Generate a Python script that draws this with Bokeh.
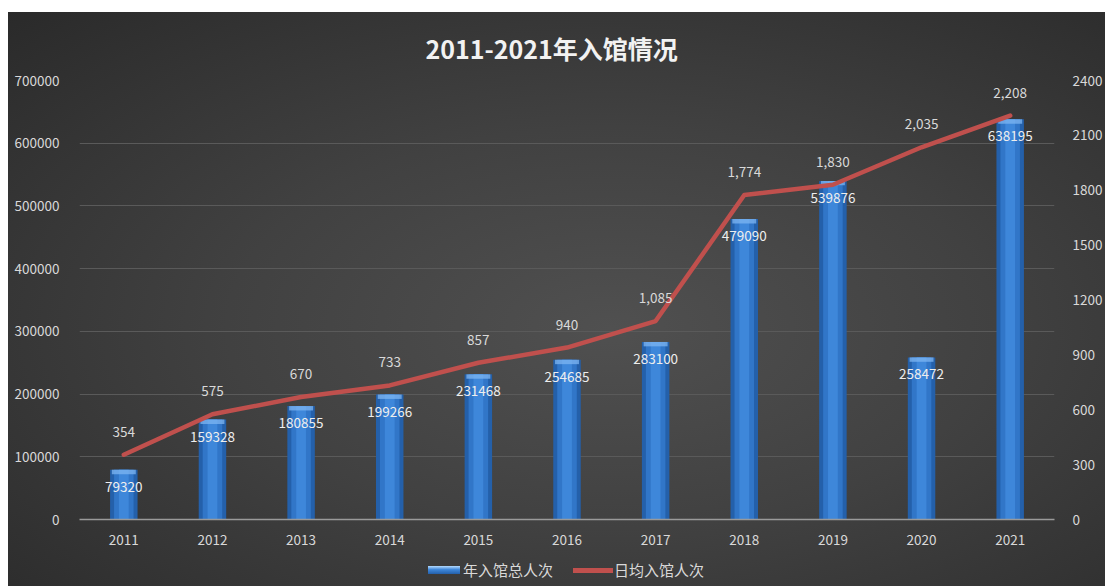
from bokeh.plotting import figure
from bokeh.models import (ColumnDataSource, LinearAxis, Range1d, FactorRange, Div,
                          FixedTicker, Spacer, NumeralTickFormatter)
from bokeh.layouts import column, row
from bokeh.core.properties import value
from bokeh.embed import file_html
from bokeh.resources import INLINE

years = ["2011", "2012", "2013", "2014", "2015", "2016", "2017", "2018", "2019", "2020", "2021"]
total_visits = [79320, 159328, 180855, 199266, 231468, 254685, 283100, 479090, 539876, 258472, 638195]
daily_avg = [354, 575, 670, 733, 857, 940, 1085, 1774, 1830, 2035, 2208]
left_ticks = [0, 100000, 200000, 300000, 400000, 500000, 600000, 700000]
right_ticks = [0, 300, 600, 900, 1200, 1500, 1800, 2100, 2400]
series_names = ["年入馆总人次", "日均入馆人次"]
chart_title = "2011-2021年入馆情况"

FONT = "Noto Sans CJK SC"
TXT = "#d9d9d9"
BAR_OUT, BAR_MID, BAR_IN, BAR_CAP = "#2460aa", "#3176c8", "#3e87da", "#7db6f2"
LINE_C = "#c0504d"
CAP_H = 7000  # highlight band height at top of each bar (axis units)

src = ColumnDataSource(dict(
    year=years,
    total=total_visits,
    cap_bottom=[v - CAP_H for v in total_visits],
    total_lbl=[str(v) for v in total_visits],
    daily=daily_avg,
    daily_lbl=[f"{v:,}" for v in daily_avg],
))

p = figure(width=1097, height=546, x_range=FactorRange(*years), y_range=Range1d(0, 700000),
           output_backend="svg", toolbar_location=None,
           min_border_left=71, min_border_right=47, min_border_top=68, min_border_bottom=39)
p.background_fill_alpha = 0
p.border_fill_alpha = 0
p.outline_line_color = None

p.title.text = chart_title
p.title.align = "left"
p.title.offset = 346
p.title.text_font = FONT
p.title.text_font_size = "25px"
p.title.text_font_style = "bold"
p.title.text_color = "#f2f2f2"
p.title.standoff = 30

p.extra_y_ranges = {"right": Range1d(0, 2400)}

# bars (layered for a cylinder-like shading)
p.vbar(x="year", top="total", width=0.31, source=src, fill_color=BAR_OUT, line_color=None)
p.vbar(x="year", top="total", width=0.22, source=src, fill_color=BAR_MID, line_color=None)
p.vbar(x="year", top="total", width=0.11, source=src, fill_color=BAR_IN, line_color=None)
p.vbar(x="year", top="total", bottom="cap_bottom", width=0.27, source=src,
       fill_color=BAR_CAP, fill_alpha=0.75, line_color=None)

# line
p.line(x="year", y="daily", source=src, y_range_name="right", line_color=LINE_C,
       line_width=4.5, line_cap="round", line_join="round")

# labels
p.text(x="year", y="total", text="total_lbl", source=src, text_align="center", text_baseline="middle",
       y_offset=17, text_color="#eeeeee", text_font=value(FONT), text_font_size="13.5px")
p.text(x="year", y="daily", text="daily_lbl", source=src, y_range_name="right", text_align="center",
       text_baseline="middle", y_offset=-23, text_color=TXT, text_font=value(FONT), text_font_size="13.5px")

# axes
la = p.yaxis[0]
la.ticker = FixedTicker(ticks=left_ticks)
la.formatter = NumeralTickFormatter(format="0")
ra = LinearAxis(y_range_name="right", ticker=FixedTicker(ticks=right_ticks))
p.add_layout(ra, "right")
for ax in (la, ra):
    ax.axis_line_color = None
    ax.major_tick_line_color = None
    ax.minor_tick_line_color = None
    ax.major_label_text_color = TXT
    ax.major_label_text_font = FONT
    ax.major_label_text_font_size = "13.5px"
la.major_label_standoff = 14
ra.major_label_standoff = 12

xa = p.xaxis[0]
xa.axis_line_color = "#9a9a9a"
xa.axis_line_width = 1.5
xa.major_tick_line_color = None
xa.minor_tick_line_color = None
xa.major_label_text_color = TXT
xa.major_label_text_font = FONT
xa.major_label_text_font_size = "13.5px"
xa.major_label_standoff = 9

p.xgrid.grid_line_color = None
p.ygrid.grid_line_color = "#5a5a5a"
p.ygrid.grid_line_width = 1

# legend strip below the chart
legend_html = (
    f'<div style="position:relative;width:1097px;height:28px;font-family:\'{FONT}\';'
    f'font-size:15px;color:{TXT};">'
    f'<span style="position:absolute;left:420px;top:8px;width:32px;height:8px;'
    f'background:linear-gradient(#b5dbff,{BAR_IN} 45%,{BAR_OUT});"></span>'
    f'<span style="position:absolute;left:455px;top:2px;line-height:20px;white-space:nowrap;">{series_names[0]}</span>'
    f'<span style="position:absolute;left:565px;top:10px;width:40px;height:5px;background:{LINE_C};"></span>'
    f'<span style="position:absolute;left:606px;top:2px;line-height:20px;white-space:nowrap;">{series_names[1]}</span>'
    f'</div>'
)
legend_div = Div(text=legend_html, width=1097, height=28, margin=0)

chart = column(p, legend_div, spacing=0, width=1097, height=574,
               styles={"background": "radial-gradient(ellipse farthest-corner at 55% 55%, "
                                     "#505050 0%, #414141 45%, #2a2a2a 100%)"})

layout = column(Spacer(height=12), row(Spacer(width=8), chart), spacing=0)
open("out.html", "w").write(file_html(layout, INLINE))
